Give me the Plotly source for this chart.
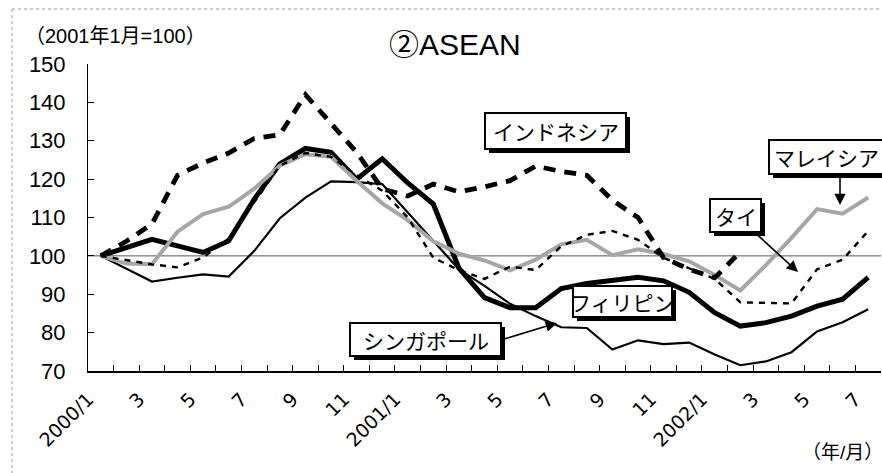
import plotly.graph_objects as go

# ---------------- data ----------------
months = ["2000/1", "2000/2", "2000/3", "2000/4", "2000/5", "2000/6", "2000/7", "2000/8",
          "2000/9", "2000/10", "2000/11", "2000/12",
          "2001/1", "2001/2", "2001/3", "2001/4", "2001/5", "2001/6", "2001/7", "2001/8",
          "2001/9", "2001/10", "2001/11", "2001/12",
          "2002/1", "2002/2", "2002/3", "2002/4", "2002/5", "2002/6", "2002/7"]

# label shown for every second month (2000/1, 3, 5, ...)
tick_labels = ["2000/1", "3", "5", "7", "9", "11", "2001/1", "3", "5", "7", "9", "11",
               "2002/1", "3", "5", "7"]

indonesia = [100, 103.8, 108.3, 121.0, 124.2, 126.8, 130.6, 131.6, 142.0, 134.5, 127.0, 117.5,
             115.6, 118.7, 116.7, 118.0, 119.6, 123.4, 122.0, 121.0, 114.5, 110.0, 99.5, 96.5,
             94.3, 101.0, None, None, None, None, None]
malaysia = [100, 98.0, 97.8, 106.3, 110.9, 112.8, 117.5, 123.5, 126.5, 125.8, 119.6, 113.7,
            109.3, 103.8, 100.6, 98.8, 96.2, 99.0, 103.0, 104.2, 100.2, 101.7, 100.5, 98.6,
            95.0, 91.0, 97.6, 104.7, 112.2, 111.0, 115.2]
thailand = [100, 98.8, 97.8, 97.0, 99.6, 104.5, 114.0, 123.5, 126.8, 125.8, 121.0, 117.0,
            110.0, 99.5, 96.3, 94.0, 97.2, 96.3, 102.5, 105.5, 106.5, 104.2, 99.5, 96.8,
            94.0, 87.9, 87.7, 87.6, 96.5, 99.0, 106.5]
philippines = [100, 102.2, 104.3, 102.6, 100.9, 103.9, 114.8, 124.0, 128.0, 127.0, 120.0, 125.3,
               119.0, 113.5, 96.8, 89.1, 86.5, 86.5, 91.5, 92.8, 93.7, 94.4, 93.5, 90.5,
               85.2, 81.7, 82.6, 84.3, 86.9, 88.7, 94.4]
singapore = [100, 96.7, 93.3, 94.3, 95.2, 94.6, 101.3, 109.8, 115.2, 119.4, 119.2, 118.7,
             111.3, 103.8, 96.5, 92.2, 87.5, 84.3, 81.4, 81.2, 75.6, 78.0, 77.0, 77.4,
             74.3, 71.5, 72.5, 74.9, 80.3, 82.7, 86.1]

base_value = 100
y_range = [70, 150]
y_ticks = [70, 80, 90, 100, 110, 120, 130, 140, 150]

# ---------------- axis helpers ----------------
n = len(months)
xpos = list(range(n))                               # month index positions
tick_pos = [k - 0.5 for k in range(n + 1)]          # tick marks at every month boundary
tick_txt = [""] * (n + 1)
for j, lab in enumerate(tick_labels):
    tick_txt[2 * j] = lab

# ---------------- figure ----------------
W, H = 882, 473
ML, MR, MT, MB = 88, 1, 64, 102
PW, PH = W - ML - MR, H - MT - MB

def px(x):
    return (x - ML) / PW

def py(y):
    return (H - MB - y) / PH

FONT = "Liberation Sans, Arial, Noto Sans CJK JP, sans-serif"
JFONT = "Noto Sans CJK JP, Liberation Sans, sans-serif"

fig = go.Figure()

def add_line(vals, name, **line):
    fig.add_trace(go.Scatter(x=xpos, y=vals, customdata=months, mode="lines", name=name,
                             line=line, hovertemplate="%{customdata}: %{y}<extra>" + name + "</extra>"))

add_line(singapore, "シンガポール", color="black", width=2.2)
add_line(philippines, "フィリピン", color="black", width=5)
add_line(malaysia, "マレイシア", color="#a6a6a6", width=4)
add_line(thailand, "タイ", color="black", width=2.4, dash="6px,6px")
add_line(indonesia, "インドネシア", color="black", width=4.8, dash="12px,9px")

shapes = [
    dict(type="line", xref="paper", yref="y", x0=0, x1=1, y0=base_value, y1=base_value,
         line=dict(color="#555555", width=1), layer="below"),
    dict(type="line", xref="paper", yref="paper", x0=px(12), x1=px(12), y0=py(9), y1=py(480),
         line=dict(color="#999999", width=1, dash="dot")),
    dict(type="line", xref="paper", yref="paper", x0=px(12), x1=px(890), y0=py(9), y1=py(9),
         line=dict(color="#999999", width=1, dash="dot")),
]

annotations = []

def label_box(text, x0, y0, x1, y1, size=21):
    shapes.append(dict(type="rect", xref="paper", yref="paper",
                       x0=px(x0 + 4), x1=px(x1 + 4), y0=py(y0 + 4), y1=py(y1 + 4),
                       fillcolor="black", line=dict(width=0)))
    shapes.append(dict(type="rect", xref="paper", yref="paper",
                       x0=px(x0), x1=px(x1), y0=py(y0), y1=py(y1),
                       fillcolor="white", line=dict(color="black", width=2)))
    annotations.append(dict(xref="paper", yref="paper", x=px((x0 + x1) / 2), y=py((y0 + y1) / 2),
                            text=text, showarrow=False,
                            font=dict(family=JFONT, size=size, color="black"),
                            xanchor="center", yanchor="middle"))

def arrow(x0, y0, x1, y1):
    annotations.append(dict(xref="paper", yref="paper", x=px(x1), y=py(y1), text="",
                            showarrow=True, ax=x0 - x1, ay=y0 - y1, axref="pixel", ayref="pixel",
                            arrowhead=2, arrowsize=1.4, arrowwidth=1.6, arrowcolor="black",
                            standoff=0, startstandoff=0))

label_box("インドネシア", 485, 113, 626, 149)
label_box("フィリピン", 573, 286, 672, 317)
label_box("シンガポール", 350, 323, 501, 356)
label_box("タイ", 710, 199, 761, 232)
label_box("マレイシア", 769, 140, 884, 174)

arrow(501, 340, 557, 323)
arrow(752, 230, 798, 272)
arrow(840, 176, 840, 205)

annotations.append(dict(xref="paper", yref="paper", x=px(455), y=py(45), text="②ASEAN",
                        showarrow=False, font=dict(family=FONT, size=30, color="black"),
                        xanchor="center", yanchor="middle"))
annotations.append(dict(xref="paper", yref="paper", x=px(23), y=py(36), text="（2001年1月=100）",
                        showarrow=False, font=dict(family=FONT, size=20, color="black"),
                        xanchor="left", yanchor="middle"))
annotations.append(dict(xref="paper", yref="paper", x=px(885), y=py(452), text="（年/月）",
                        showarrow=False, font=dict(family=FONT, size=19, color="black"),
                        xanchor="right", yanchor="middle"))

fig.update_layout(
    width=W, height=H,
    margin=dict(l=ML, r=MR, t=MT, b=MB, pad=0, autoexpand=False),
    paper_bgcolor="white", plot_bgcolor="white",
    showlegend=False,
    shapes=shapes, annotations=annotations,
    font=dict(family=FONT, color="black"),
)
fig.update_xaxes(type="linear", range=[-0.5, n - 0.5], automargin=False,
                 tickmode="array", tickvals=tick_pos, ticktext=tick_txt,
                 tickangle=-45, tickfont=dict(size=19, family="DejaVu Sans, Liberation Sans, sans-serif"),
                 ticks="inside", ticklen=6, tickcolor="black",
                 showline=True, linecolor="black", linewidth=1.5,
                 showgrid=False, zeroline=False, ticklabelstandoff=8)
fig.update_yaxes(range=y_range, tickvals=y_ticks, ticks="inside", ticklen=6, tickcolor="black",
                 showline=True, linecolor="black", linewidth=1, automargin=False,
                 showgrid=False, zeroline=False,
                 tickfont=dict(size=22, family=FONT), ticklabelstandoff=17)

fig.write_html("out.html", config={"displayModeBar": False},
               post_script="document.body.style.margin='0';document.body.style.padding='0';")
